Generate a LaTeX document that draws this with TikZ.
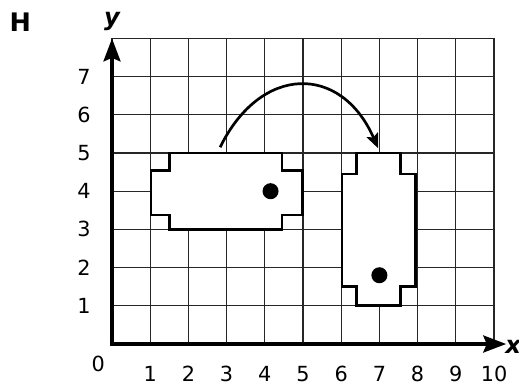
\documentclass[tikz,border=0pt]{standalone}
\usepackage{fontspec}
\setmainfont{DejaVu Sans}
\usetikzlibrary{arrows.meta}
\begin{document}
\begin{tikzpicture}[x=1cm,y=1cm,
  gridline/.style={draw=black!85,line width=1pt},
  axisline/.style={line width=3pt,-{Stealth[length=17pt,width=12.5pt,inset=2.5pt]}},
  figshape/.style={draw=black,line width=2pt,fill=white,line join=miter},
  dot/.style={circle,fill=black,inner sep=0pt,minimum size=0.42cm},
  num/.style={font=\fontsize{15.5}{18}\selectfont,inner sep=0pt},
  axlabel/.style={font=\fontsize{18}{20}\selectfont\bfseries\itshape,inner sep=0pt},
  turn/.style={line width=2pt,-{Stealth[length=11pt,width=9pt,inset=2pt]}}]
\useasboundingbox (-2.932,-1.073) rectangle (10.654,9.005);
% grid
\draw[gridline] (0,0) grid (10,8);
% shapes
\draw[figshape] (1.5,5) -- (4.45,5) -- (4.45,4.55) -- (4.98,4.55) -- (4.98,3.38) -- (4.45,3.38) -- (4.45,3) -- (1.5,3) -- (1.5,3.38) -- (1.02,3.38) -- (1.02,4.55) -- (1.5,4.55) -- cycle;
\draw[figshape] (6.4,5) -- (7.56,5) -- (7.56,4.45) -- (7.95,4.45) -- (7.95,1.5) -- (7.56,1.5) -- (7.56,1) -- (6.4,1) -- (6.4,1.5) -- (6.02,1.5) -- (6.02,4.45) -- (6.4,4.45) -- cycle;
\node[dot] (d1) at (4.15,4) {};
\node[dot] (d2) at (7,1.8) {};
% axes
\coordinate (o) at (0,0);
\coordinate (ytip) at (0,8);
\coordinate (xtip) at (10.32,0);
\draw[axisline] ([yshift=-1.5pt]o) -- (ytip);
\draw[axisline] ([xshift=-1.5pt]o) -- (xtip);
% turn arrow
\coordinate (as) at (2.83,5.15);
\coordinate (ae) at (6.97,5.12);
\draw[turn] (as) .. controls (3.9,7.33) and (6.0,7.33) .. (ae);
% labels
\foreach \k in {1,...,7} \node[num] (y\k) at (-0.73,\k) {\k};
\foreach \k in {1,...,10} \node[num] (x\k) at (\k,-0.78) {\k};
\node[num] (zero) at (-0.36,-0.53) {0};
\node[axlabel] (xl) at (10.5,-0.08) {x};
\node[axlabel] (yl) at (0,8.45) {y};
\node[font=\fontsize{19}{22}\selectfont\bfseries,inner sep=0pt] (H) at (-2.4,8.43) {H};
\end{tikzpicture}
\end{document}
